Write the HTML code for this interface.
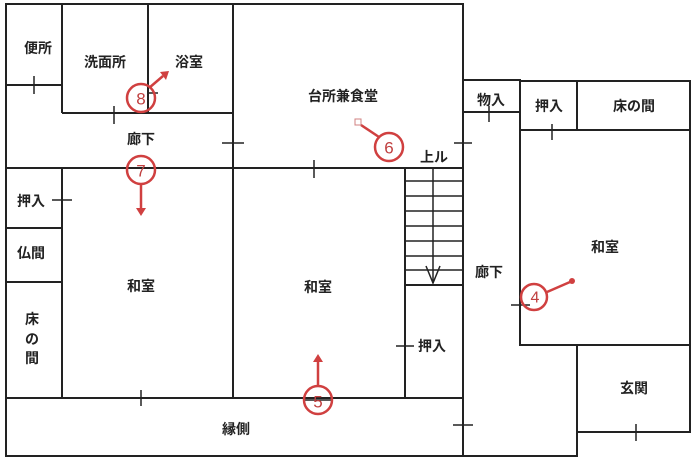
<!DOCTYPE html>
<html><head><meta charset="utf-8"><style>
html,body{margin:0;padding:0;background:#fff;}
svg{display:block}
text{font-family:"Liberation Sans","Noto Sans CJK JP",sans-serif;font-size:14px;fill:#222;text-anchor:middle;dominant-baseline:central;font-weight:bold}
</style></head><body>
<svg width="696" height="459" viewBox="0 0 696 459" xmlns="http://www.w3.org/2000/svg">
<g stroke="#222" stroke-width="2" fill="none">
<path d="M6 4 H463 V456 H6 Z"/>
<line x1="62" y1="4" x2="62" y2="113"/>
<line x1="6" y1="85" x2="62" y2="85"/>
<line x1="148" y1="4" x2="148" y2="113"/>
<line x1="62" y1="113" x2="233" y2="113"/>
<line x1="233" y1="4" x2="233" y2="398"/>
<line x1="6" y1="168" x2="463" y2="168"/>
<line x1="62" y1="168" x2="62" y2="398"/>
<line x1="6" y1="228" x2="62" y2="228"/>
<line x1="6" y1="282" x2="62" y2="282"/>
<line x1="6" y1="398" x2="463" y2="398"/>
<line x1="405" y1="168" x2="405" y2="398"/>
<g stroke-width="1.5">
<line x1="405" y1="181" x2="463" y2="181"/>
<line x1="405" y1="196" x2="463" y2="196"/>
<line x1="405" y1="211" x2="463" y2="211"/>
<line x1="405" y1="226" x2="463" y2="226"/>
<line x1="405" y1="241" x2="463" y2="241"/>
<line x1="405" y1="256" x2="463" y2="256"/>
<line x1="405" y1="270" x2="463" y2="270"/>
<line x1="433" y1="168" x2="433" y2="283"/>
<path d="M426 266 L433 283 L440 266"/>
</g>
<line x1="405" y1="285" x2="463" y2="285"/>
<path d="M463 80 H520 V345 H577 V456 H463"/>
<line x1="463" y1="112" x2="520" y2="112"/>
<path d="M520 81 H690 V432 H577"/>
<line x1="577" y1="81" x2="577" y2="130"/>
<line x1="520" y1="130" x2="690" y2="130"/>
<line x1="577" y1="345" x2="690" y2="345"/>
<g stroke-width="1.5">
<line x1="34" y1="76" x2="34" y2="94"/>
<line x1="114" y1="106" x2="114" y2="124"/>
<line x1="222" y1="143" x2="244" y2="143"/>
<line x1="314" y1="160" x2="314" y2="178"/>
<line x1="454" y1="143" x2="472" y2="143"/>
<line x1="52" y1="200" x2="72" y2="200"/>
<line x1="141" y1="390" x2="141" y2="406"/>
<line x1="396" y1="346" x2="414" y2="346"/>
<line x1="453" y1="425" x2="473" y2="425"/>
<line x1="489" y1="106" x2="489" y2="122"/>
<line x1="552" y1="124" x2="552" y2="140"/>
<line x1="511" y1="305" x2="530" y2="305"/>
<line x1="636" y1="424" x2="636" y2="441"/>
<line x1="303" y1="400" x2="333" y2="400"/>
<line x1="148" y1="93" x2="158" y2="93"/>
</g>
</g>
<g stroke="#d04040" stroke-width="2.5" fill="none">
<circle cx="141" cy="98" r="14"/><line x1="149" y1="88" x2="163" y2="76"/>
<circle cx="141" cy="170" r="14"/><line x1="141" y1="184" x2="141" y2="210"/>
<circle cx="389" cy="147" r="14"/><line x1="379" y1="137" x2="361" y2="125"/>
<circle cx="534" cy="297" r="13"/><line x1="547" y1="292" x2="570" y2="282"/>
<circle cx="318" cy="400" r="14"/><line x1="318" y1="386" x2="318" y2="360"/>
</g>
<g fill="#d04040">
<path d="M160 72 L169 71 L166 80 Z"/>
<path d="M136 208 L146 208 L141 216 Z"/>
<rect x="355" y="119" width="6" height="6" fill="none" stroke="#d08080"/>
<circle cx="572" cy="281" r="3"/>
<path d="M313 362 L323 362 L318 354 Z"/>
</g>
<text x="141" y="99" style="fill:#c04040;font-size:17px;font-weight:normal">8</text>
<text x="141" y="171" style="fill:#c04040;font-size:17px;font-weight:normal">7</text>
<text x="389" y="148" style="fill:#c04040;font-size:17px;font-weight:normal">6</text>
<text x="535" y="298" style="fill:#c04040;font-size:16px;font-weight:normal">4</text>
<text x="318" y="402" style="fill:#c04040;font-size:17px;font-weight:normal">5</text>
<text x="38" y="48">便所</text>
<text x="105" y="62">洗面所</text>
<text x="189" y="62">浴室</text>
<text x="343" y="96">台所兼食堂</text>
<text x="141" y="139">廊下</text>
<text x="434" y="157">上ル</text>
<text x="491" y="100">物入</text>
<text x="549" y="106">押入</text>
<text x="634" y="106">床の間</text>
<text x="605" y="247">和室</text>
<text x="489" y="272">廊下</text>
<text x="634" y="388">玄関</text>
<text x="31" y="201">押入</text>
<text x="31" y="253">仏間</text>
<text x="32" y="319">床</text>
<text x="32" y="339">の</text>
<text x="32" y="358">間</text>
<text x="141" y="286">和室</text>
<text x="318" y="287">和室</text>
<text x="432" y="346">押入</text>
<text x="236" y="429">縁側</text>
</svg>
</body></html>
